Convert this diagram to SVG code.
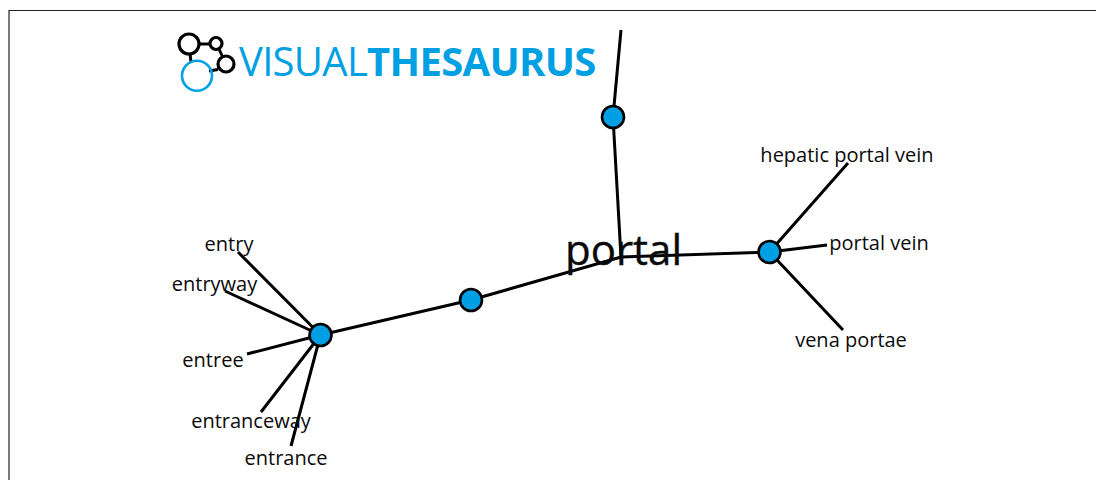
<svg xmlns="http://www.w3.org/2000/svg" width="1096" height="480" viewBox="0 0 1096 480">
<style>
text{font-family:"Open Sans","Noto Sans","Liberation Sans",sans-serif;fill:#0a0a0a}
.l{font-size:20px;text-anchor:middle}
.c{stroke:#000;stroke-width:3;fill:none}
.n{fill:#009fe3;stroke:#000;stroke-width:2.6}
.g{fill:#fff;stroke:#000;stroke-width:3.2}
</style>
<rect width="1096" height="480" fill="#fff"/>
<path d="M9 480V10.500H1096" fill="none" stroke="#222" stroke-width="1.2"/>
<g id="logo">
<path class="c" d="M199 44H216M219 49L224 60M218 69.500L209 71M190 54L191 62"/>
<circle class="g" cx="189" cy="44" r="10"/>
<circle class="g" cx="216" cy="43.500" r="6"/>
<circle class="g" cx="226" cy="64" r="8"/>
<circle cx="197" cy="75.700" r="15" fill="none" stroke="#00a0e3" stroke-width="2.600"/>
<text x="239" y="76" font-size="40" style="fill:#00a0e3;letter-spacing:-.7px">VISUAL<tspan font-weight="700">THESAURUS</tspan></text>
</g>
<g id="connectors">
<path class="c" d="M320.500 335L471 300L621 257L769.500 252M621 257L613 117L621 30"/>
<path class="c" d="M320.500 335L238 252M320.500 335L225 291M320.500 335L247 354M320.500 335L261 412M320.500 335L291 446"/>
<path class="c" d="M769.500 252L848 163M769.500 252L827 245M769.500 252L843 330"/>
</g>
<g id="n-top"><circle class="n" cx="613" cy="117" r="11"/></g>
<g id="n-mid"><circle class="n" cx="471" cy="300" r="11"/></g>
<g id="n-left"><circle class="n" cx="320.500" cy="335" r="11"/></g>
<g id="n-right"><circle class="n" cx="769.500" cy="252" r="11"/></g>
<g id="portal"><text x="623.500" y="265" font-size="42" text-anchor="middle" stroke="#0a0a0a" stroke-width=".4">portal</text></g>
<g id="entry"><text class="l" x="229" y="250.500">entry</text></g>
<g id="entryway"><text class="l" x="214.500" y="290.500">entryway</text></g>
<g id="entree"><text class="l" x="213" y="366.500">entree</text></g>
<g id="entranceway"><text class="l" x="251" y="427.500">entranceway</text></g>
<g id="entrance"><text class="l" x="286" y="464.500">entrance</text></g>
<g id="hepatic"><text class="l" x="847" y="161.500">hepatic portal vein</text></g>
<g id="portal-vein"><text class="l" x="879" y="249.500">portal vein</text></g>
<g id="vena-portae"><text class="l" x="851" y="346.500">vena portae</text></g>
</svg>
